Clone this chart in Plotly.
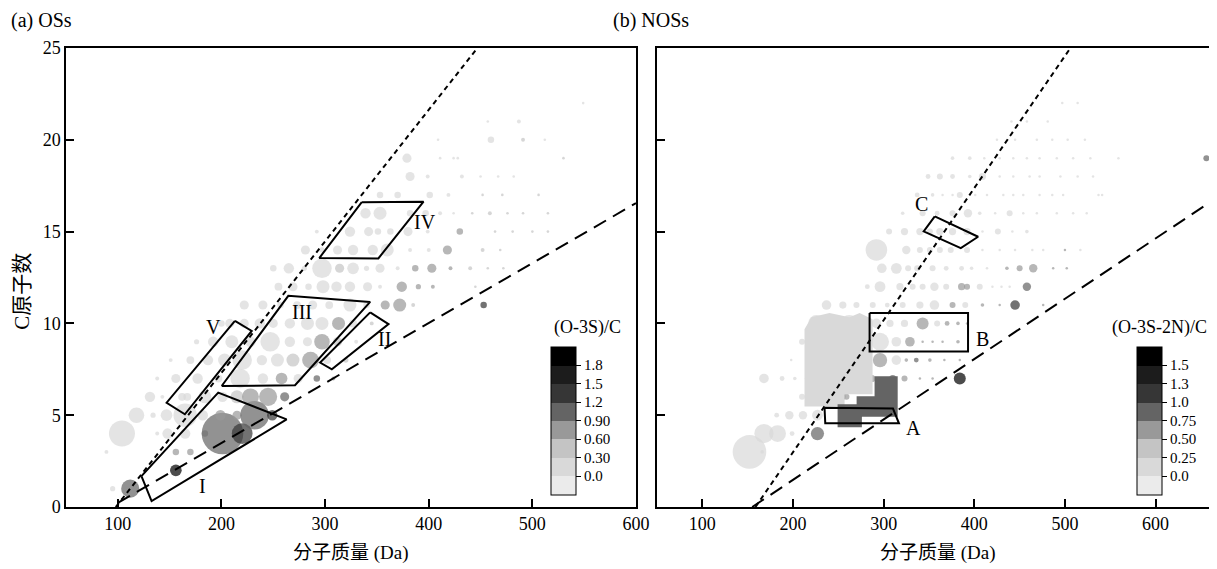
import plotly.graph_objects as go

# ---------------- data: panel (a) OSs ----------------
os_pts = [
    # C=1..3
    (95,1,4,.15),(112,1,14,1.05),
    (156,2,9,1.95),
    (89,3,3,.15),(156,3,5,.75),(170,3,5,.75),
    # C=4
    (104,4,20,.15),(138,4,3,.15),(148,4,8,.15),(165,4,8,.15),(184,4,5,.75),(201,4,32,1.05),(220,4,16,1.35),
    # C=5
    (118,5,12,.15),(134,5,4,.15),(147,5,9,.15),(165,5,18,.15),(182,5,8,.15),(199,5,8,.75),(215,5,7,.75),(232,5,22,1.05),(249,5,8,1.35),
    # C=6
    (131,6,8,.15),(143,6,3,.15),(162,6,6,.15),(167,6,6,.15),(184,6,10,.15),(201,6,8,.15),(215,6,10,.45),(228,6,13,.75),(245,6,14,.75),(261,6,7,1.05),
    # C=7
    (138,7,3,.15),(156,7,7,.15),(177,7,8,.15),(197,7,6,.15),(218,7,15,.15),(240,7,8,.15),(258,7,9,.75),(274,7,7,.15),(292,7,5,1.05),(308,7,3,.75),
    # C=8
    (151,8,3,.15),(170,8,6,.15),(187,8,8,.15),(203,8,10,.15),(220,8,15,.15),(239,8,8,.15),(254,8,10,.15),(269,8,10,.45),(286,8,13,.75),(302,8,6,.15),(320,8,4,.45),
    # C=9
    (176,9,4,.15),(192,9,8,.15),(210,9,10,.15),(228,9,8,.15),(247,9,15,.15),(266,9,8,.15),(283,9,7,.15),(297,9,12,.75),(312,9,7,.45),(330,9,3,.15),
    # C=10
    (200,10,5,.15),(208,10,7,.15),(222,10,7,.15),(237,10,8,.15),(250,10,7,.15),(266,10,8,.15),(283,10,10,.15),(297,10,10,.15),(313,10,10,.75),(327,10,6,.15),(345,10,3,.45),
    # C=11
    (222,11,7,.15),(240,11,7,.15),(257,11,5,.15),(273,11,6,.15),(288,11,7,.15),(304,11,6,.15),(324,11,10,.15),(340,11,5,.15),(358,11,7,.75),(372,11,10,.75),(385,11,3,.45),(453,11,5,1.35),
    # C=12
    (255,12,6,.15),(269,12,7,.15),(284,12,5,.15),(298,12,10,.15),(311,12,8,.15),(324,12,8,.15),(341,12,7,.15),(353,12,3,.15),(374,12,8,.75),(390,12,4,.75),(404,12,3,.75),(445,12,2,.45),
    # C=13
    (250,13,5,.15),(265,13,8,.15),(280,13,4,.15),(297,13,15,.15),(314,13,7,.45),(327,13,9,.15),(340,13,4,.15),(353,13,7,.15),(370,13,3,.15),(387,13,5,.75),(403,13,7,.75),(421,13,3,.75),(440,13,3,.45),(457,13,2,.45),(472,13,2,.45),
    # C=14
    (281,14,7,.15),(297,14,4,.15),(312,14,7,.15),(327,14,8,.15),(346,14,8,.15),(360,14,10,.15),(382,14,3,.15),(400,14,3,.15),(418,14,7,.75),(452,14,3,.45),(469,14,2,.45),
    # C=15
    (292,15,3,.15),(324,15,8,.15),(342,15,7,.15),(351,15,5,.15),(363,15,5,.15),(380,15,7,.15),(399,15,3,.15),(430,15,5,.75),(464,15,2,.45),(481,15,2,.45),(500,15,2,.45),(515,15,2,.45),
    # C=16
    (339,16,8,.15),(353,16,10,.15),(382,16,5,.15),(397,16,5,.15),(411,16,3,.15),(424,16,2,.15),(442,16,2,.45),(459,16,3,.45),(476,16,2,.45),(491,16,2,.45),(515,16,2,.45),
    # C=17
    (353,17,5,.15),(370,17,5,.15),(401,17,5,.15),(419,17,3,.15),(452,17,2,.45),(471,17,2,.45),(506,17,2,.45),
    # C=18..22
    (382,18,7,.15),(399,18,3,.15),(432,18,3,.15),(450,18,2,.15),(467,18,2,.15),(482,18,2,.15),
    (379,19,7,.15),(411,19,2,.15),(424,19,2,.15),(428,19,2,.15),(530,19,2,.45),
    (409,20,2,.15),(460,20,5,.15),(491,20,3,.45),(512,20,2,.15),
    (457,21,2,.15),(487,21,3,.15),
    (549,22,2,.15),
]
os_mass = [p[0] for p in os_pts]
os_c = [p[1] for p in os_pts]
os_size = [p[2] for p in os_pts]
os_val = [p[3] for p in os_pts]

# ---------------- data: panel (b) NOSs ----------------
nos_pts = [
    (152,3,28,.125),(166,3,3,.125),
    (168,4,16,.125),(183,4,14,.125),(199,4,4,.125),(227,4,11,.85),
    (182,5,4,.125),(196,5,7,.125),(211,5,7,.125),(227,5,9,.125),
    (210,6,5,.125),(240,6,6,.125),(254,6,6,.6),(259,6,5,.6),
    (168,7,8,.125),(188,7,4,.125),(202,7,3,.125),(215,7,3,.125),(287,7,6,.6),(310,7,6,.85),(323,7,5,.6),(340,7,2,.6),(354,7,2,.6),(384,7,10,1.6),
    (198,8,2,.125),(296,8,12,.6),(314,8,8,.125),(325,8,3,.6),(336,8,4,.85),(351,8,3,.6),(367,8,2,.6),(384,8,2,.6),
    (210,9,5,.125),(273,9,8,.125),(296,9,15,.125),(314,9,8,.125),(329,9,8,.6),(343,9,2,.6),(354,9,2,.6),(365,9,2,.6),(382,9,3,.6),
    (226,10,14,.125),(262,10,14,.125),(292,10,8,.125),(307,10,6,.125),(323,10,6,.125),(343,10,10,.6),(359,10,5,.125),(370,10,4,.6),(382,10,3,.6),(392,10,2,.6),
    (237,11,8,.125),(255,11,6,.125),(270,11,5,.125),(288,11,5,.125),(304,11,4,.125),(321,11,5,.125),(340,11,6,.125),(356,11,8,.125),(376,11,5,.6),(390,11,5,.125),(409,11,3,.6),(428,11,2,.6),(445,11,8,1.1),(476,11,2,.6),
    (282,12,4,.125),(296,12,9,.125),(318,12,6,.125),(332,12,5,.125),(343,12,5,.125),(356,12,7,.125),(369,12,5,.125),(386,12,6,.6),(392,12,5,.6),(406,12,5,.125),(420,12,2,.125),(430,12,2,.125),(439,12,2,.125),(458,12,7,.85),
    (298,13,8,.125),(314,13,9,.125),(327,13,5,.125),(337,13,5,.125),(354,13,5,.125),(369,13,4,.125),(386,13,4,.125),(397,13,3,.125),(414,13,2,.125),(436,13,3,.6),(450,13,5,.6),(465,13,7,.6),(487,13,2,.6),(502,13,2,.6),
    (292,14,18,.125),(325,14,7,.125),(340,14,5,.125),(351,14,5,.125),(362,14,5,.125),(374,14,5,.125),(392,14,5,.125),(409,14,2,.125),(428,14,2,.125),(445,14,2,.125),(464,14,2,.125),(476,14,2,.125),(500,14,2,.6),(517,14,2,.125),
    (306,15,5,.125),(323,15,6,.125),(340,15,6,.125),(351,15,5,.125),(362,15,6,.125),(376,15,6,.125),(392,15,6,.125),(409,15,2,.125),(426,15,5,.125),(442,15,2,.125),(458,15,3,.125),
    (321,16,3,.125),(343,16,5,.125),(359,16,4,.125),(376,16,5,.125),(393,16,7,.125),(406,16,3,.125),(423,16,2,.125),(439,16,5,.125),(454,16,2,.125),(469,16,2,.125),(491,16,2,.125),(509,16,2,.125),(524,16,2,.125),
    (337,17,4,.125),(354,17,3,.125),(365,17,2,.125),(376,17,2,.125),(384,17,5,.125),(401,17,2,.125),(414,17,2,.125),(432,17,2,.125),(443,17,2,.125),(454,17,2,.125),(472,17,2,.125),(486,17,2,.125),(498,17,2,.125),(537,17,1.5,.125),(541,17,1.5,.125),
    (349,18,4,.125),(362,18,5,.125),(376,18,4,.125),(395,18,3,.125),(409,18,6,.125),(428,18,2,.125),(443,18,2,.125),(461,18,2,.125),(472,18,2,.125),(495,18,2,.125),(514,18,2,.125),(531,18,2,.125),
    (376,19,3,.125),(395,19,3,.125),(411,19,2,.125),(428,19,2,.125),(443,19,2,.125),(458,19,2,.125),(472,19,2,.125),(491,19,2,.125),(509,19,2,.125),(528,19,2,.125),(559,19,1.5,.125),(656,19,5,.85),
    (425,20,2,.125),(445,20,2,.125),(469,20,2,.125),(486,20,2,.125),(503,20,2,.125),(522,20,2,.125),
    (441,21,1.5,.125),(458,21,1.5,.125),(481,21,1.5,.125),
    (497,22,1.5,.125),(514,22,1.5,.125),
]
nos_mass = [p[0] for p in nos_pts]
nos_c = [p[1] for p in nos_pts]
nos_size = [p[2] for p in nos_pts]
nos_val = [p[3] for p in nos_pts]

# large overlapping marker blocks in panel (b)
block_light_m = [212.7, 220.4, 240.3, 262.4, 273.5, 287.8, 287.8, 256.9, 256.9, 212.7, 212.7]
block_light_c = [9.68, 10.34, 10.56, 10.34, 10.56, 10.23, 6.14, 6.14, 5.48, 5.48, 9.68]
block_dark_m = [290, 315.5, 315.5, 276, 276, 249.2, 249.2, 270.2, 270.2, 290, 290]
block_dark_c = [7.12, 7.12, 4.92, 4.92, 4.34, 4.34, 5.59, 5.59, 6.03, 6.03, 7.12]

# reference lines
a_short_m = [98, 447]; a_short_c = [0, 25]
a_long_m = [100, 600]; a_long_c = [0.22, 16.55]
b_short_m = [158.6, 506]; b_short_c = [0, 25]
b_long_m = [155, 660]; b_long_c = [0, 16.6]

# region outlines
reg_a = {
    "I":   ([122.8, 132.6, 262.9, 196.9, 122.8], [1.68, 0.32, 4.77, 6.23, 1.68]),
    "II":  ([343.5, 361.2, 306.5, 295.2, 343.5], [10.6, 9.96, 7.5, 7.87, 10.6]),
    "III": ([200.2, 271, 343.5, 264.5, 200.2], [6.59, 6.63, 11.17, 11.5, 6.59]),
    "IV":  ([335.4, 395, 351.4, 294.4, 335.4], [16.6, 16.63, 13.54, 13.56, 16.6]),
    "V":   ([213, 229.2, 164.7, 147.1, 213], [10.14, 9.59, 5.05, 5.68, 10.14]),
}
lab_a = {"I": (182, 1.13), "II": (357, 9.14), "III": (277.5, 10.6), "IV": (396, 15.5), "V": (192, 9.78)}
reg_b = {
    "A": ([234.8, 310.3, 316.9, 235.6, 234.8], [5.41, 5.36, 4.56, 4.56, 5.41]),
    "B": ([284.5, 393.1, 393.1, 284.5, 284.5], [10.56, 10.56, 8.47, 8.47, 10.56]),
    "C": ([356.4, 404.2, 385.1, 344.2, 356.4], [15.83, 14.72, 14.1, 15.01, 15.83]),
}
lab_b = {"A": (333, 4.32), "B": (409.4, 9.14), "C": (341.6, 16.5)}

x_ticks = [100, 200, 300, 400, 500, 600]
y_ticks = [0, 5, 10, 15, 20, 25]
cb_a_vals = [0, 0.3, 0.6, 0.9, 1.2, 1.5, 1.8]
cb_a_text = ["0.0", "0.30", "0.60", "0.90", "1.2", "1.5", "1.8"]
cb_b_vals = [0, 0.25, 0.5, 0.75, 1.0, 1.25, 1.5]
cb_b_text = ["0.0", "0.25", "0.50", "0.75", "1.0", "1.3", "1.5"]

# ---------------- styling ----------------
FONT = "Liberation Serif, Times New Roman, Noto Sans CJK SC, serif"
band_colors = ["#ebebeb", "#d9d9d9", "#c4c4c4", "#999999", "#646464", "#363636", "#1c1c1c", "#000000"]


def discrete_scale(colors):
    n = len(colors)
    cs = []
    for i, c in enumerate(colors):
        cs.append([i / n, c])
        cs.append([(i + 1) / n, c])
    return cs


CS = discrete_scale(band_colors)


def scaled(sizes, k):
    return [max(2.5, s * k) for s in sizes]


# page offset (browser body margin) compensation
OFF = 8
W, H = 1217 - OFF, 569 - OFF
PL, PR, PT, PB = 66, 1210, 48, 507.5
ML, MR, MT, MB = PL - OFF, W - (PR - OFF), PT - OFF, H - (PB - OFF)
PW = W - ML - MR
PH = H - MT - MB


def px2paper_x(px):
    return (px - PL) / PW


def px2paper_y(py):
    return (PB - py) / PH


fig = go.Figure()


def cbar(xpx, vals, text):
    return dict(
        x=px2paper_x(xpx), xanchor="left", xpad=0,
        y=px2paper_y(495), yanchor="bottom", ypad=0,
        len=148 / PH, lenmode="fraction", thickness=25,
        outlinewidth=1, outlinecolor="black",
        tickvals=vals, ticktext=text, ticks="outside", ticklen=5,
        tickcolor="black", tickfont=dict(family=FONT, size=15, color="black"),
    )


fig.add_trace(go.Scatter(
    x=os_mass, y=os_c, mode="markers", xaxis="x", yaxis="y",
    marker=dict(size=scaled(os_size, 1.3), color=os_val, colorscale=CS, cmin=-0.3, cmax=2.1,
                line=dict(width=0), showscale=True,
                colorbar=cbar(551, cb_a_vals, cb_a_text)),
    showlegend=False, hoverinfo="skip"))

fig.add_trace(go.Scatter(
    x=nos_mass, y=nos_c, mode="markers", xaxis="x2", yaxis="y2",
    marker=dict(size=scaled(nos_size, 1.2), color=nos_val, colorscale=CS, cmin=-0.25, cmax=1.75,
                line=dict(width=0), showscale=True,
                colorbar=cbar(1137, cb_b_vals, cb_b_text)),
    showlegend=False, hoverinfo="skip"))

fig.add_trace(go.Scatter(x=block_light_m, y=block_light_c, mode="lines", fill="toself",
                         fillcolor="#d9d9d9", line=dict(width=0, color="#d9d9d9"),
                         xaxis="x2", yaxis="y2", showlegend=False, hoverinfo="skip"))
fig.add_trace(go.Scatter(x=block_dark_m, y=block_dark_c, mode="lines", fill="toself",
                         fillcolor="#646464", line=dict(width=0, color="#646464"),
                         xaxis="x2", yaxis="y2", showlegend=False, hoverinfo="skip"))

for xm, yc, ax, ay, dash in [
    (a_short_m, a_short_c, "x", "y", "5px,4px"),
    (a_long_m, a_long_c, "x", "y", "14px,8px"),
    (b_short_m, b_short_c, "x2", "y2", "5px,4px"),
    (b_long_m, b_long_c, "x2", "y2", "14px,8px"),
]:
    fig.add_trace(go.Scatter(x=xm, y=yc, mode="lines", xaxis=ax, yaxis=ay,
                             line=dict(color="black", width=2, dash=dash),
                             showlegend=False, hoverinfo="skip"))

annotations = []
for regs, labs, ax, ay in [(reg_a, lab_a, "x", "y"), (reg_b, lab_b, "x2", "y2")]:
    for name, (xm, yc) in regs.items():
        fig.add_trace(go.Scatter(x=xm, y=yc, mode="lines", xaxis=ax, yaxis=ay,
                                 line=dict(color="black", width=2),
                                 showlegend=False, hoverinfo="skip"))
    for name, (lx, ly) in labs.items():
        annotations.append(dict(x=lx, y=ly, xref=ax, yref=ay, text=name, showarrow=False,
                                font=dict(family=FONT, size=20, color="black")))


def pap(text, xpx, ypx, size=16, xanchor="center", angle=0):
    return dict(x=px2paper_x(xpx), y=px2paper_y(ypx), xref="paper", yref="paper",
                text=text, showarrow=False, xanchor=xanchor, yanchor="middle",
                textangle=angle, font=dict(family=FONT, size=size, color="black"))


annotations += [
    pap("(a) OSs", 9, 20, 20, "left"),
    pap("(b) NOSs", 611, 20, 20, "left"),
    pap("分子质量 (Da)", 351, 554, 19),
    pap("分子质量 (Da)", 938, 554, 19),
    pap("C原子数", 22, 292, 21, angle=-90),
    pap("(O-3S)/C", 587, 328, 18),
    pap("(O-3S-2N)/C", 1159, 328, 18),
]

axis_common = dict(showline=True, linecolor="black", linewidth=1.5, mirror=True,
                   ticks="inside", ticklen=8, tickwidth=1.5, tickcolor="black",
                   showgrid=False, zeroline=False, automargin=False,
                   tickfont=dict(family=FONT, size=18, color="black"))

d1 = [0, px2paper_x(636)]
d2 = [px2paper_x(657), 1]

fig.update_layout(
    width=W, height=H,
    margin=dict(l=ML, r=MR, t=MT, b=MB, pad=0),
    paper_bgcolor="white", plot_bgcolor="white",
    xaxis=dict(domain=d1, range=[50, 600], tickvals=x_ticks, anchor="y", **axis_common),
    yaxis=dict(domain=[0, 1], range=[0, 25], tickvals=y_ticks, anchor="x", **axis_common),
    xaxis2=dict(domain=d2, range=[50, 660], tickvals=x_ticks, anchor="y2", **axis_common),
    yaxis2=dict(domain=[0, 1], range=[0, 25], tickvals=y_ticks, anchor="x2",
                showticklabels=False, **axis_common),
    annotations=annotations,
    showlegend=False,
)

fig.write_html("out.html")
